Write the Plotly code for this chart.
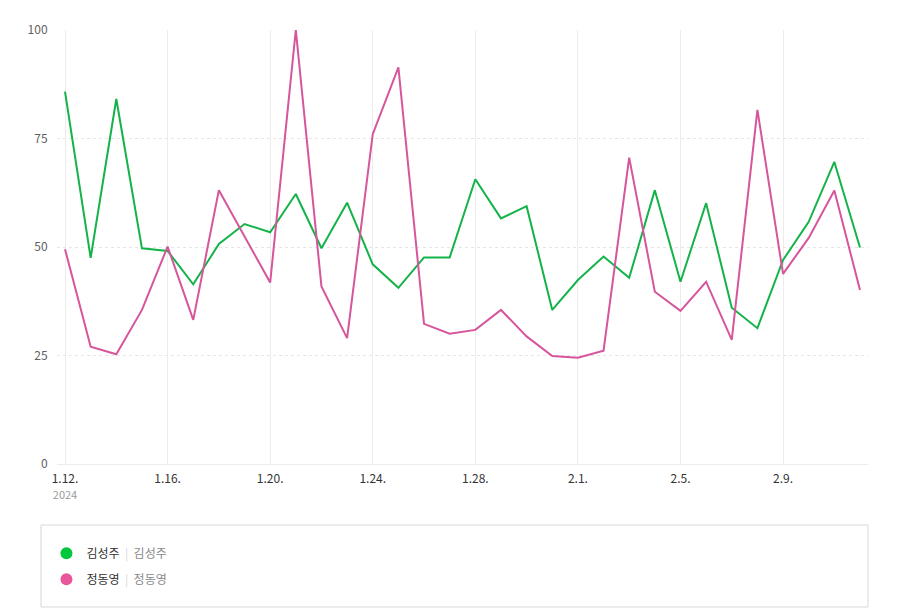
import plotly.graph_objects as go
import pandas as pd

dates = pd.date_range("2024-01-12", "2024-02-12", freq="D")
kim = [85.8, 47.5, 84.1, 49.7, 49.1, 41.4, 50.7, 55.3, 53.4, 62.2, 49.7, 60.2, 46.0, 40.6, 47.6, 47.6,
       65.6, 56.6, 59.4, 35.5, 42.4, 47.8, 42.9, 63.1, 42.0, 60.1, 36.0, 31.3, 47.0, 55.8, 69.6, 49.9]
jung = [49.5, 27.0, 25.3, 35.5, 50.1, 33.2, 63.1, 52.3, 41.8, 100.0, 40.9, 29.0, 76.0, 91.4, 32.3, 30.0,
        30.9, 35.5, 29.4, 24.9, 24.5, 26.1, 70.6, 39.7, 35.3, 42.0, 28.6, 81.6, 43.8, 52.1, 63.0, 40.1]
names = ["김성주", "정동영"]
line_colors = ["#14b34a", "#d6559b"]
dot_colors = ["#00c73c", "#e8579b"]
tick_dates = ["2024-01-12", "2024-01-16", "2024-01-20", "2024-01-24", "2024-01-28",
              "2024-02-01", "2024-02-05", "2024-02-09"]
tick_text = ["1.12.<br><span style='font-size:11px;color:#9a9a9a'>2024</span>", "1.16.", "1.20.", "1.24.",
             "1.28.", "2.1.", "2.5.", "2.9."]
y_ticks = [0, 25, 50, 75, 100]

fig = go.Figure()
for vals, nm, lc in zip([kim, jung], names, line_colors):
    fig.add_trace(go.Scatter(x=dates, y=vals, mode="lines", name=nm,
                             line=dict(color=lc, width=2), showlegend=False))
for nm, dc in zip(names, dot_colors):
    fig.add_trace(go.Scatter(x=[None], y=[None], mode="markers", legendgroup=nm,
                             marker=dict(color=dc, size=11),
                             name=f"{nm}  <span style='color:#d6d6d6'>|</span>  <span style='color:#8a8a8a'>{nm}</span>"))

for yv in [50, 100]:
    fig.add_hline(y=yv, line=dict(color="#ececec", width=1), layer="below")

fig.update_layout(
    width=899, height=612,
    margin=dict(l=57, r=31, t=30, b=148, autoexpand=False),
    paper_bgcolor="white", plot_bgcolor="white",
    font=dict(family="Noto Sans CJK KR, Noto Sans, sans-serif", color="#333"),
    xaxis=dict(range=["2024-01-11 16:30", "2024-02-12 07:30"], tickvals=tick_dates, ticktext=tick_text,
               showgrid=True, gridcolor="#ececec", gridwidth=1, zeroline=False,
               showline=True, linecolor="#ececec", ticks="outside", ticklen=4, tickcolor="rgba(0,0,0,0)",
               tickfont=dict(size=12, color="#333"), fixedrange=True),
    yaxis=dict(range=[0, 100], tickvals=y_ticks, showgrid=True, gridcolor="#e6e6e6", griddash="dot",
               zeroline=False, showline=False, ticks="outside", ticklen=6, tickcolor="rgba(0,0,0,0)",
               tickfont=dict(size=12, color="#5f5f5f")),
    legend=dict(x=-0.013, y=-0.172, xanchor="left", yanchor="top", bgcolor="rgba(0,0,0,0)",
                font=dict(size=12, color="#333"), itemsizing="constant",
                traceorder="grouped", tracegroupgap=7),
    shapes=[dict(type="rect", xref="paper", yref="paper", x0=-0.0197, x1=1.0, y0=-0.3295, y1=-0.1406,
                 line=dict(color="#e5e5e5", width=1), fillcolor="rgba(0,0,0,0)")],
)
fig.write_html("out.html")
